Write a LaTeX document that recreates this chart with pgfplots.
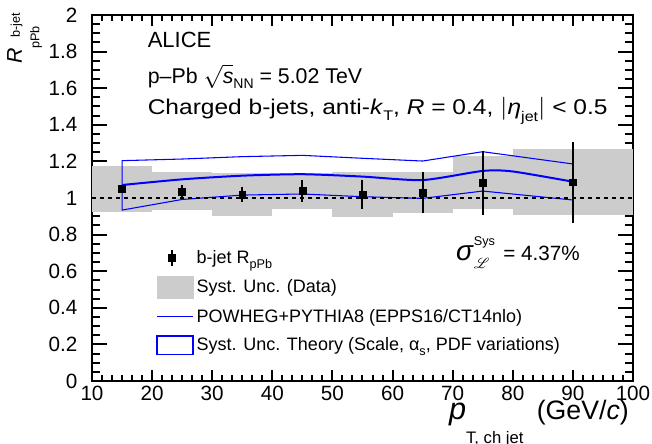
\documentclass[border=0pt]{standalone}
\usepackage{fontspec}
\setmainfont{Liberation Sans}
\usepackage{mathrsfs}
\usepackage{graphicx}
\usepackage{pgfplots}
\pgfplotsset{compat=1.18}
\definecolor{systgray}{RGB}{204,204,204}
\begin{document}
\begin{tikzpicture}
\useasboundingbox (-69pt,-46.5pt) rectangle (420pt,285.75pt);
\begin{axis}[
  scale only axis, width=405.75pt, height=274.5pt,
  xmin=10, xmax=100, ymin=0, ymax=2,
  xtick={10,20,30,40,50,60,70,80,90,100},
  xticklabels={10,20,30,40,50,60,70,80,90,100},
  ytick={0,0.2,0.4,0.6,0.8,1,1.2,1.4,1.6,1.8,2},
  yticklabels={0,0.2,0.4,0.6,0.8,1,1.2,1.4,1.6,1.8,2},
  minor x tick num=5, minor y tick num=3,
  tick align=inside,
  axis line style={line width=1.5pt},
  every tick/.style={black, line width=1.5pt},
  xtick style={/pgfplots/major tick length=8.25pt,/pgfplots/minor tick length=4.5pt},
  ytick style={/pgfplots/major tick length=11pt,/pgfplots/minor tick length=6pt},
  /pgf/number format/assume math mode=true,
  ticklabel style={font=\fontsize{15.5}{18}\selectfont},
  yticklabel style={xshift=-7.5pt},
  legend style={at={(axis cs:20,0.745)}, anchor=north west, draw=none, fill=none,
    font=\fontsize{13.5}{16}\selectfont, row sep=6pt,
    nodes={inner sep=2pt}},
  legend cell align=left,
  clip=false,
]
% legend entries
\addlegendimage{legend image code/.code={
  \draw[black, line width=1.5pt] (11pt,-6pt) -- (11pt,6pt);
  \fill[black] (8.5pt,-2.5pt) rectangle (13.5pt,2.5pt);
  \path[draw=none] (0pt,0pt) -- (27pt,0pt);}}
\addlegendentry{b-jet R\raisebox{-0.55ex}{\fontsize{9.5}{10}\selectfont pPb}}
\addlegendimage{legend image code/.code={
  \fill[systgray] (0pt,-8.25pt) rectangle (27pt,8.25pt);}}
\addlegendentry{Syst. Unc. (Data)}
\addlegendimage{legend image code/.code={
  \draw[blue, line width=1pt] (0pt,0pt) -- (27pt,0pt);}}
\addlegendentry{POWHEG+PYTHIA8 (EPPS16/CT14nlo)}
\addlegendimage{legend image code/.code={
  \draw[blue, line width=1.2pt] (0pt,-7pt) rectangle (27pt,7pt);}}
\addlegendentry{Syst. Unc. Theory (Scale, α\raisebox{-0.55ex}{\fontsize{9.5}{10}\selectfont s}, PDF variations)}

% data systematic boxes
\addplot[fill=systgray, draw=none, forget plot] coordinates {(10,0.925)(20,0.925)(20,1.175)(10,1.175)} -- cycle;
\addplot[fill=systgray, draw=none, forget plot] coordinates {(20,0.934)(30,0.934)(30,1.144)(20,1.144)} -- cycle;
\addplot[fill=systgray, draw=none, forget plot] coordinates {(30,0.902)(40,0.902)(40,1.134)(30,1.134)} -- cycle;
\addplot[fill=systgray, draw=none, forget plot] coordinates {(40,0.938)(50,0.938)(50,1.134)(40,1.134)} -- cycle;
\addplot[fill=systgray, draw=none, forget plot] coordinates {(50,0.896)(60,0.896)(60,1.144)(50,1.144)} -- cycle;
\addplot[fill=systgray, draw=none, forget plot] coordinates {(60,0.920)(70,0.920)(70,1.140)(60,1.140)} -- cycle;
\addplot[fill=systgray, draw=none, forget plot] coordinates {(70,0.940)(80,0.940)(80,1.230)(70,1.230)} -- cycle;
\addplot[fill=systgray, draw=none, forget plot] coordinates {(80,0.907)(100,0.907)(100,1.266)(80,1.266)} -- cycle;

% theory uncertainty band outline
\addplot[blue, line width=0.8pt, forget plot] coordinates {
  (15,1.204)(25,1.213)(35,1.226)(45,1.233)(55,1.217)(65,1.202)(75,1.253)(90,1.186)
  (90,0.989)(75,1.038)(65,0.998)(55,1.007)(45,1.022)(35,1.016)(25,0.992)(15,0.934)} -- cycle;
% theory central
\addplot[blue, line width=1.5pt, smooth, tension=0.4, forget plot] coordinates {
  (15,1.071)(25,1.102)(35,1.122)(45,1.130)(55,1.117)(65,1.098)(75,1.148)(80,1.145)(90,1.089)};

% unity line
\addplot[black, line width=1.3pt, dash pattern=on 3pt off 3pt, forget plot] coordinates {(10,1)(100,1)};

% data
\addplot[black, only marks, mark=square*, mark size=2.6pt, forget plot,
  error bars/.cd, y dir=both, y explicit,
  error bar style={line width=1.5pt}, error mark=none] coordinates {
  (15,1.049) +- (0,0.02)
  (25,1.035) +- (0,0.036)
  (35,1.020) +- (0,0.041)
  (45,1.038) +- (0,0.061)
  (55,1.020) +- (0,0.081)
  (65,1.031) +- (0,0.112)
  (75,1.082) +- (0,0.173)
  (90,1.086) +- (0,0.221)};

% texts
\node[anchor=base west, font=\fontsize{16.5}{19}\selectfont] at (axis cs:18.5,1.820) {ALICE};
\node[anchor=base west, font=\fontsize{16}{19}\selectfont] at (axis cs:18.5,1.628)
  {p--Pb $\sqrt{\mbox{\textit{s}}}$\raisebox{-0.5ex}{\fontsize{10.5}{12}\selectfont NN} = 5.02 TeV};
\node[anchor=base west, font=\fontsize{16}{19}\selectfont, inner sep=0pt] at ([xshift=0.33em]axis cs:18.5,1.454)
  {\scalebox{1.15}[1]{Charged b-jets, anti-\textit{k}\raisebox{-0.5ex}{\fontsize{10.5}{12}\selectfont T}, \textit{R} = 0.4, $|$\textit{η}\raisebox{-0.6ex}{\fontsize{10.5}{12}\selectfont jet}$|$ < 0.5}};
\node[anchor=base west, font=\fontsize{15.5}{18}\selectfont] at (axis cs:69.8,0.661)
  {{\fontsize{21}{22}\selectfont\textit{σ}}\rlap{\raisebox{1.3ex}{\fontsize{9.5}{11}\selectfont Sys}}\rlap{\raisebox{-0.8ex}{\fontsize{11}{12}\selectfont$\mathscr{L}$}}\hspace{22pt}= 4.37\%};

% axis labels
\node[rotate=90, anchor=base east, inner sep=0pt] at ([xshift=-52.5pt, yshift=1.5pt]rel axis cs:0,1)
  {{\fontsize{16}{17}\selectfont\textit{R}}\rlap{\raisebox{-13pt}{\fontsize{9.5}{10}\selectfont pPb}}\hspace{8pt}\raisebox{1.5pt}{\fontsize{9.5}{10}\selectfont b-jet}};
\node[anchor=base east, inner sep=0pt] at ([xshift=-3pt, yshift=-28.5pt]rel axis cs:1,0)
  {{\fontsize{23}{25}\selectfont\textit{p}}\raisebox{-18pt}{\fontsize{12.5}{13}\selectfont T, ch jet}\hspace{10pt}{\fontsize{20}{22}\selectfont (GeV/\textit{c})}};
\end{axis}
\end{tikzpicture}
\end{document}
